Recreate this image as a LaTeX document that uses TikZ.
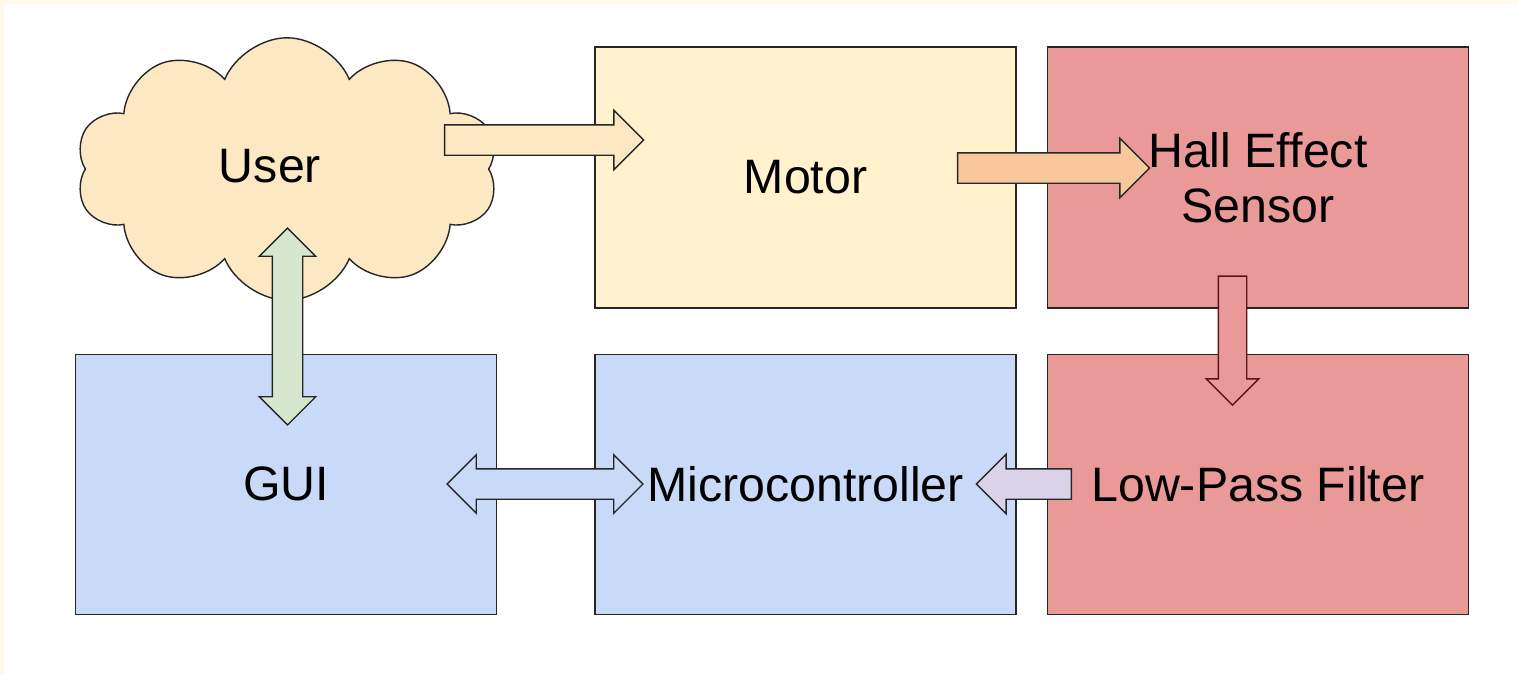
\documentclass[tikz,border=0pt]{standalone}
\usepackage{fontspec}
\setmainfont{Liberation Sans}
\usetikzlibrary{shapes.symbols, shapes.arrows, positioning}
\definecolor{edgecream}{HTML}{FFF9EC}
\definecolor{motorcream}{HTML}{FFF2CC}
\definecolor{usercream}{HTML}{FCE9C3}
\definecolor{sensorred}{HTML}{EA9999}
\definecolor{sensororange}{HTML}{F8C89C}
\definecolor{darkred}{HTML}{5B1414}
\definecolor{mcublue}{HTML}{C9DAF8}
\definecolor{guigreen}{HTML}{D5E8CF}
\definecolor{filterpurple}{HTML}{D9D2E9}
\tikzset{
  txt/.style={font=\fontsize{27.5}{31}\selectfont, align=center},
  block/.style={txt, draw=black!85, line width=0.8pt, minimum width=8.42cm, minimum height=5.22cm},
  blockarr/.style={single arrow, draw=black!85, line width=0.8pt, inner xsep=0pt, inner ysep=0.29cm, single arrow head extend=0.29cm},
  dblarr/.style={double arrow, draw=black!85, line width=0.8pt, inner xsep=0pt, inner ysep=0.29cm, double arrow head extend=0.28cm}
}
\begin{document}
\begin{tikzpicture}[x=0.02cm, y=-0.02cm]
  \useasboundingbox (0,0) rectangle (1518,674);
  % faint page edge
  \fill[edgecream] (0,0) rectangle (1518,4);
  \fill[edgecream] (0,0) rectangle (4,674);

  % blocks
  \node[block, fill=motorcream] (motor) at (805.5,177.5) {Motor};
  \node[block, fill=sensorred, right=0.6cm of motor] (hall) {Hall Effect\\Sensor};
  \node[block, fill=sensorred, minimum height=5.2cm, below=0.9cm of hall] (lpf) {Low-Pass Filter};
  \node[block, fill=mcublue, minimum height=5.2cm, below=0.9cm of motor] (mcu) {Microcontroller};
  \node[block, fill=mcublue, minimum height=5.2cm, left=1.94cm of mcu] (gui) {GUI};

  % user cloud
  \node[cloud, cloud puffs=10, cloud puff arc=135, cloud ignores aspect, draw=black!85, line width=0.8pt,
        fill=usercream, minimum width=8.45cm, minimum height=5.25cm] (user) at (287,169) {};
  \node[txt] (userlbl) at (270,166) {User};

  % arrows
  \node[blockarr, fill=usercream, minimum height=3.98cm] (a1) at (536.5,140) {};
  \node[blockarr, fill=sensororange, minimum height=3.84cm] (a2) at (1046,168) {};
  \node[blockarr, fill=sensorred, draw=darkred, inner ysep=0.27cm, single arrow head extend=0.24cm,
        minimum height=2.58cm, rotate=-90] (a3) at (1232.5,333.5) {};
  \node[dblarr, fill=mcublue, minimum height=3.92cm] (a4) at (545,484) {};
  \node[blockarr, fill=filterpurple, minimum height=1.9cm, rotate=180] (a5) at (1031.5,484) {};
  \node[dblarr, fill=guigreen, double arrow head extend=0.26cm, minimum height=3.94cm, rotate=90] (a6) at (287.5,326.5) {};
\end{tikzpicture}
\end{document}
